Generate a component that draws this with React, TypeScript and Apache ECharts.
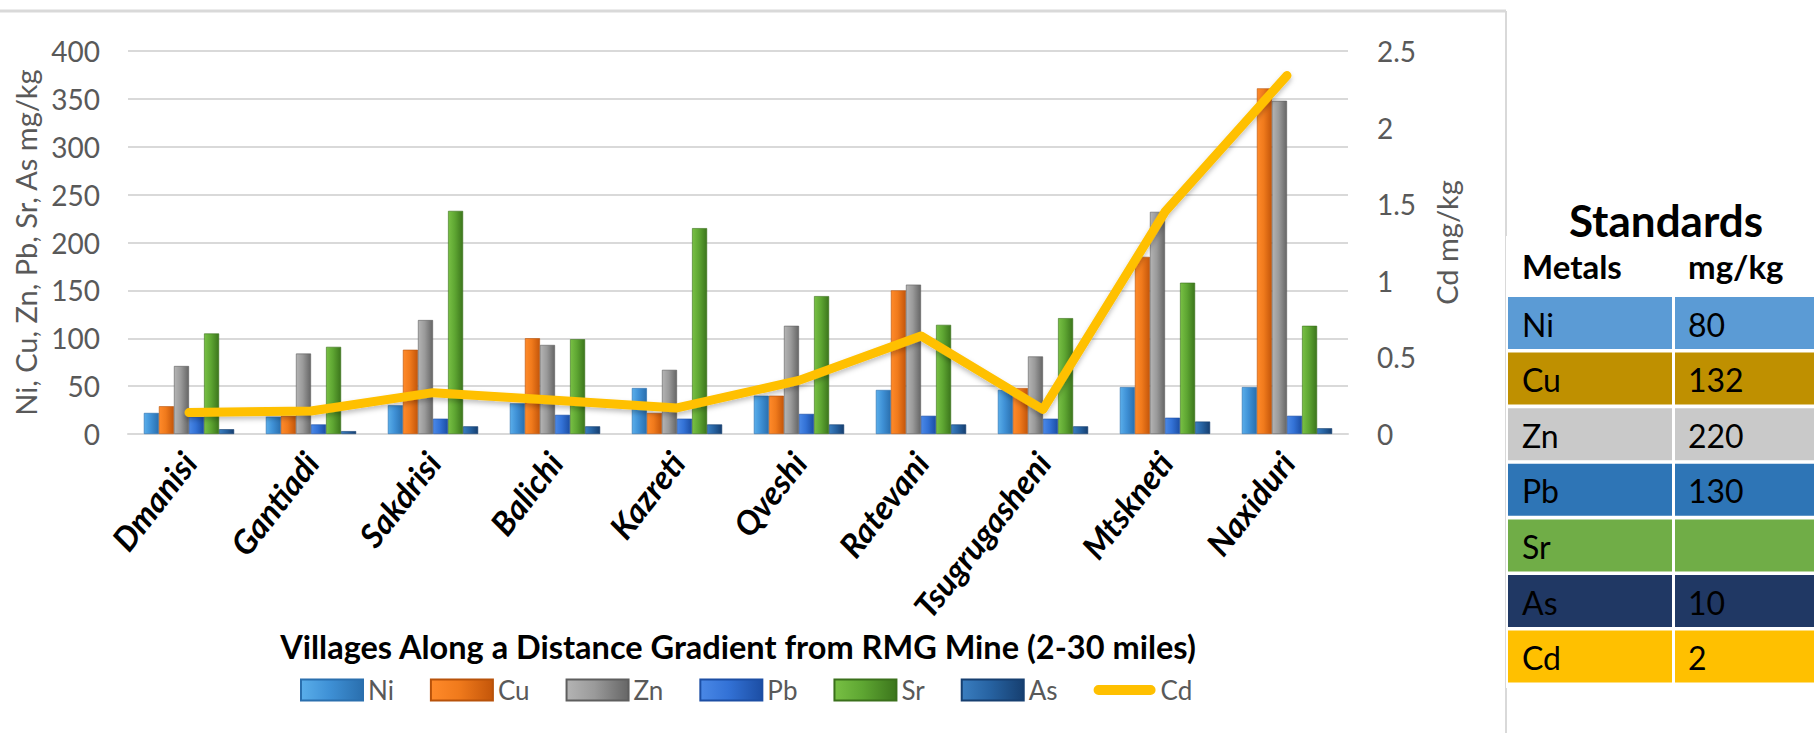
import React, { useEffect, useRef } from "react";
import * as echarts from "echarts";

const villages = ["Dmanisi", "Gantiadi", "Sakdrisi", "Balichi", "Kazreti", "Qveshi", "Ratevani", "Tsugrugasheni", "Mtskneti", "Naxiduri"];
const niValues = [22, 18, 30, 32, 48, 40, 46, 46, 49, 49];
const cuValues = [29, 19, 88, 100, 22, 40, 150, 48, 185, 361];
const znValues = [71, 84, 119, 93, 67, 113, 156, 81, 232, 348];
const pbValues = [18, 10, 16, 20, 16, 21, 19, 16, 17, 19];
const srValues = [105, 91, 233, 99, 215, 144, 114, 121, 158, 113];
const asValues = [5, 3, 8, 8, 10, 10, 10, 8, 13, 6];
const cdValues = [0.14, 0.15, 0.27, 0.22, 0.17, 0.35, 0.64, 0.16, 1.45, 2.34];

const leftTicks = { min: 0, max: 400, interval: 50 };
const rightTicks = { min: 0, max: 2.5, interval: 0.5 };

const tableMetals = ["Ni", "Cu", "Zn", "Pb", "Sr", "As", "Cd"];
const tableStandards = ["80", "132", "220", "130", "", "10", "2"];

const tableColors = ["#5B9BD5", "#BF9000", "#C9C9C9", "#2E75B6", "#70AD47", "#203864", "#FFC000"];

const FONT = "Lato, 'Open Sans', sans-serif";

function grad(light: string, mid: string, dark: string) {
  return new echarts.graphic.LinearGradient(0, 0, 1, 0, [
    { offset: 0, color: light },
    { offset: 0.45, color: mid },
    { offset: 1, color: dark },
  ]);
}

export default function App() {
  const ref = useRef<HTMLDivElement>(null);
  useEffect(() => {
    if (!ref.current) return;
    const chart = echarts.init(ref.current, undefined, { renderer: "svg" });

    const barSeries = [
      { name: "Ni", data: niValues, c: grad("#5AAEEA", "#3F91D6", "#2A6FAE"), b: "#2A6FAE" },
      { name: "Cu", data: cuValues, c: grad("#FF8A2A", "#F07A1C", "#C4560A"), b: "#B8520A" },
      { name: "Zn", data: znValues, c: grad("#B4B4B4", "#9A9A9A", "#666666"), b: "#5E5E5E" },
      { name: "Pb", data: pbValues, c: grad("#4A88E6", "#3372D6", "#1C4EA4"), b: "#1C4EA4" },
      { name: "Sr", data: srValues, c: grad("#78C044", "#5EA632", "#3C761C"), b: "#3A701B" },
      { name: "As", data: asValues, c: grad("#3A7EC0", "#2763A2", "#163F70"), b: "#163F70" },
    ].map((s) => ({
      name: s.name,
      type: "bar",
      yAxisIndex: 0,
      data: s.data,
      barGap: "0%",
      barCategoryGap: "26%",
      itemStyle: { color: s.c, borderColor: s.b, borderWidth: 0.6 },
    }));

    const rowTop = 297;
    const rowPitch = 55.6;
    const rowH = 52;
    const c1x = 1508, c1w = 164, c2x = 1675, c2w = 139;

    const tableGraphics: any[] = [
      { type: "rect", left: 1506, top: 236, shape: { width: 308, height: 452 }, style: { fill: "#FFFFFF" }, z: 10 },
      { type: "text", x: 1666, y: 220, style: { text: "Standards", font: `bold 44px ${FONT}`, fill: "#000", align: "center", verticalAlign: "middle" }, z: 11 },
      { type: "text", x: 1522, y: 266, style: { text: "Metals", font: `bold 33px ${FONT}`, fill: "#000", align: "left", verticalAlign: "middle" }, z: 11 },
      { type: "text", x: 1688, y: 266, style: { text: "mg/kg", font: `bold 33px ${FONT}`, fill: "#000", align: "left", verticalAlign: "middle" }, z: 11 },
    ];
    tableMetals.forEach((m, i) => {
      const y = rowTop + i * rowPitch;
      tableGraphics.push(
        { type: "rect", shape: { x: c1x, y, width: c1w, height: rowH }, style: { fill: tableColors[i] }, z: 11 },
        { type: "rect", shape: { x: c2x, y, width: c2w, height: rowH }, style: { fill: tableColors[i] }, z: 11 },
        { type: "text", x: 1522, y: y + rowH / 2 + 1, style: { text: m, font: `32px ${FONT}`, fill: "#000", align: "left", verticalAlign: "middle" }, z: 12 },
        { type: "text", x: 1688, y: y + rowH / 2 + 1, style: { text: tableStandards[i], font: `32px ${FONT}`, fill: "#000", align: "left", verticalAlign: "middle" }, z: 12 }
      );
    });

    const borderGraphics = [
      { type: "line", shape: { x1: 0, y1: 11, x2: 1506, y2: 11 }, style: { stroke: "#D9D9D9", lineWidth: 3 }, z: 5 },
      { type: "line", shape: { x1: 1506, y1: 11, x2: 1506, y2: 733 }, style: { stroke: "#D9D9D9", lineWidth: 2 }, z: 5 },
    ];

    chart.setOption({
      animation: false,
      backgroundColor: "#FFFFFF",
      textStyle: { fontFamily: FONT },
      grid: { left: 128, right: 466, top: 51, bottom: 299, containLabel: false },
      legend: {
        top: 672,
        left: 295,
        itemWidth: 62,
        itemHeight: 21,
        itemGap: 36,
        textStyle: { fontSize: 26, color: "#595959", fontFamily: FONT },
        data: [
          { name: "Ni", icon: "rect" },
          { name: "Cu", icon: "rect" },
          { name: "Zn", icon: "rect" },
          { name: "Pb", icon: "rect" },
          { name: "Sr", icon: "rect" },
          { name: "As", icon: "rect" },
          { name: "Cd", icon: "path://M5,0 H57 A5,5 0 0 1 57,10 H5 A5,5 0 0 1 5,0 Z" },
        ],
      },
      xAxis: {
        type: "category",
        data: villages,
        axisLine: { lineStyle: { color: "#D9D9D9", width: 2 } },
        axisTick: { show: false },
        axisLabel: {
          rotate: 52,
          margin: 22,
          fontSize: 33,
          fontWeight: "bold",
          fontStyle: "italic",
          color: "#000",
          fontFamily: FONT,
        },
        name: "Villages Along a Distance Gradient from RMG Mine (2-30 miles)",
        nameLocation: "middle",
        nameGap: 193,
        nameTextStyle: { fontSize: 32.5, fontWeight: "bold", color: "#000", fontFamily: FONT },
      },
      yAxis: [
        {
          type: "value",
          ...leftTicks,
          axisLine: { show: false },
          axisTick: { show: false },
          axisLabel: { fontSize: 28, color: "#595959", margin: 28, fontFamily: FONT },
          splitLine: { lineStyle: { color: "#D9D9D9", width: 2 } },
          name: "Ni, Cu, Zn, Pb, Sr, As mg/kg",
          nameLocation: "middle",
          nameRotate: 90,
          nameGap: 88,
          nameTextStyle: { fontSize: 29, color: "#595959", fontFamily: FONT },
        },
        {
          type: "value",
          ...rightTicks,
          position: "right",
          axisLine: { show: false },
          axisTick: { show: false },
          axisLabel: { fontSize: 28, color: "#595959", margin: 29, fontFamily: FONT },
          splitLine: { show: false },
          name: "Cd mg/kg",
          nameLocation: "middle",
          nameRotate: 90,
          nameGap: 84,
          nameTextStyle: { fontSize: 29, color: "#595959", fontFamily: FONT },
        },
      ],
      series: [
        ...barSeries,
        {
          name: "Cd",
          type: "line",
          yAxisIndex: 1,
          data: cdValues,
          showSymbol: false,
          symbol: "none",
          z: 5,
          itemStyle: { color: "#FFC000" },
          lineStyle: {
            color: "#FFC000",
            width: 9,
            cap: "round",
            join: "round",
            shadowColor: "rgba(0,0,0,0.25)",
            shadowBlur: 5,
            shadowOffsetY: 3,
          },
        },
      ],
      graphic: [...borderGraphics, ...tableGraphics],
    });

    return () => chart.dispose();
  }, []);

  return (
    <div
      ref={ref}
      style={{ position: "fixed", left: 0, top: 0, width: 1814, height: 733, background: "#fff" }}
    />
  );
}
